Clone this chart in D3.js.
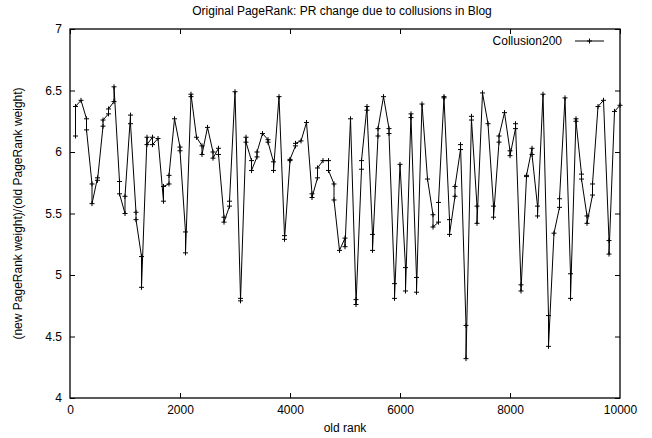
<!DOCTYPE html>
<html>
<head>
<meta charset="utf-8">
<script src="https://cdn.jsdelivr.net/npm/d3@7"></script>
<style>
  body { margin: 0; background: #fff; }
  svg text { font-family: "Liberation Sans", Arial, Helvetica, sans-serif; }
</style>
</head>
<body>
<div id="chart"></div>
<script>
// old rank positions (one cluster per rank)
const ranks = [
  100, 200, 300, 400, 500, 600, 700, 800, 900, 1000,
  1100, 1200, 1300, 1400, 1500, 1600, 1700, 1800, 1900, 2000,
  2100, 2200, 2300, 2400, 2500, 2600, 2700, 2800, 2900, 3000,
  3100, 3200, 3300, 3400, 3500, 3600, 3700, 3800, 3900, 4000,
  4100, 4200, 4300, 4400, 4500, 4600, 4700, 4800, 4900, 5000,
  5100, 5200, 5300, 5400, 5500, 5600, 5700, 5800, 5900, 6000,
  6100, 6200, 6300, 6400, 6500, 6600, 6700, 6800, 6900, 7000,
  7100, 7200, 7300, 7400, 7500, 7600, 7700, 7800, 7900, 8000,
  8100, 8200, 8300, 8400, 8500, 8600, 8700, 8800, 8900, 9000,
  9100, 9200, 9300, 9400, 9500, 9600, 9700, 9800, 9900, 10000
];

// PR change ratio samples at each rank (in plotting order)
const prChange = [
  [6.13, 6.37], [6.42], [6.27, 6.18], [5.74, 5.58], [5.79, 5.77],
  [6.21, 6.26], [6.31, 6.35], [6.41, 6.53], [5.76, 5.66], [5.50, 5.64],
  [6.30, 6.23], [5.51, 5.45], [5.15, 4.90], [6.12, 6.06], [6.12, 6.06],
  [6.11], [5.60, 5.72], [5.74, 5.81], [6.27], [6.04, 6.01],
  [5.35, 5.18], [6.45, 6.47], [6.12], [6.05, 5.98], [6.20],
  [6.00, 5.95], [6.03, 5.98], [5.47, 5.43], [5.56, 5.60], [6.49],
  [4.81, 4.79], [6.12, 6.08], [5.93, 5.85], [5.96, 6.00], [6.15],
  [6.10, 6.08], [5.92, 5.85], [6.45], [5.32, 5.29], [5.93, 5.94],
  [6.05, 6.07], [6.09], [6.24], [5.66, 5.63], [5.79, 5.87],
  [5.93], [5.93, 5.85], [5.74, 5.61], [5.20], [5.30, 5.23],
  [6.27], [4.80, 4.76], [5.86, 5.93], [6.37, 6.34], [5.33, 5.20],
  [6.13, 6.19], [6.45], [6.19, 6.15], [4.93, 4.81], [5.90],
  [5.06, 4.87], [6.31, 6.28], [4.98, 4.86], [6.39], [5.78],
  [5.49, 5.39], [5.43, 5.59], [6.45, 6.44], [5.45, 5.33], [5.64, 5.72],
  [6.02, 6.06], [4.59, 4.32], [6.29, 6.26], [5.56, 5.42], [6.48],
  [6.23], [5.56, 5.47], [6.08, 6.13], [6.32], [6.01, 5.97],
  [6.19, 6.23], [4.92, 4.87], [5.80, 5.81], [6.03, 5.98], [5.56, 5.48],
  [6.47], [4.67, 4.42], [5.34], [5.55, 5.62], [6.44],
  [5.01, 4.81], [6.27, 6.25], [5.82, 5.78], [5.48, 5.42], [5.65, 5.74],
  [6.37], [6.42], [5.28, 5.17], [6.33], [6.38]
];

const xTicks = [0, 2000, 4000, 6000, 8000, 10000];
const yTicks = [4, 4.5, 5, 5.5, 6, 6.5, 7];

const seriesName = "Collusion200";
const title = "Original PageRank: PR change due to collusions in Blog";

const width = 652, height = 438;
const margin = { top: 29, right: 32, bottom: 40, left: 70 };

const svg = d3.select("#chart").append("svg")
  .attr("width", width)
  .attr("height", height);

const x = d3.scaleLinear().domain([0, 10000]).range([margin.left, width - margin.right]);
const y = d3.scaleLinear().domain([4, 7]).range([height - margin.bottom, margin.top]);

// flatten clusters into points
const points = [];
ranks.forEach((r, i) => {
  prChange[i].forEach(v => points.push({ rank: r, value: v }));
});

// axes (gnuplot style: ticks inward, mirrored)
function styleAxis(g) {
  g.select(".domain").remove();
  g.selectAll(".tick line").attr("stroke", "#000").attr("stroke-width", 1);
  g.selectAll(".tick text").attr("font-size", 12).attr("fill", "#000");
}

svg.append("g")
  .attr("transform", `translate(0,${y(4)})`)
  .call(d3.axisBottom(x).tickValues(xTicks).tickFormat(d3.format("d")).tickSizeInner(-5).tickSizeOuter(0).tickPadding(7))
  .call(styleAxis)
  .call(g => g.selectAll(".tick").filter(d => d === 0 || d === 10000).select("line").remove());

svg.append("g")
  .attr("transform", `translate(0,${y(7)})`)
  .call(d3.axisTop(x).tickValues(xTicks).tickFormat("").tickSizeInner(-5).tickSizeOuter(0))
  .call(styleAxis);

svg.append("g")
  .attr("transform", `translate(${x(0)},0)`)
  .call(d3.axisLeft(y).tickValues(yTicks).tickFormat(d3.format("")).tickSizeInner(-5).tickSizeOuter(0).tickPadding(8))
  .call(styleAxis);

svg.append("g")
  .attr("transform", `translate(${x(10000)},0)`)
  .call(d3.axisRight(y).tickValues(yTicks).tickFormat("").tickSizeInner(-5).tickSizeOuter(0))
  .call(styleAxis);

// border
svg.append("rect")
  .attr("x", x(0)).attr("y", y(7))
  .attr("width", x(10000) - x(0)).attr("height", y(4) - y(7))
  .attr("fill", "none").attr("stroke", "#000").attr("stroke-width", 1.3);

// line
const line = d3.line().x(d => x(d.rank)).y(d => y(d.value));
svg.append("path")
  .datum(points)
  .attr("d", line)
  .attr("fill", "none")
  .attr("stroke", "#000")
  .attr("stroke-width", 1);

// plus markers
const ps = 2.5;
svg.append("g").selectAll("path.pt")
  .data(points)
  .enter().append("path")
  .attr("class", "pt")
  .attr("d", d => {
    const cx = x(d.rank), cy = y(d.value);
    return `M${cx - ps},${cy}H${cx + ps}M${cx},${cy - ps}V${cy + ps}`;
  })
  .attr("stroke", "#000")
  .attr("stroke-width", 1);

// legend
const lg = svg.append("g");
lg.append("text")
  .attr("x", 562).attr("y", 45)
  .attr("text-anchor", "end")
  .attr("font-size", 12)
  .text(seriesName);
lg.append("line")
  .attr("x1", 575).attr("x2", 604).attr("y1", 41).attr("y2", 41)
  .attr("stroke", "#000");
lg.append("path")
  .attr("d", `M${589.5 - ps},41H${589.5 + ps}M589.5,${41 - ps}V${41 + ps}`)
  .attr("stroke", "#000");

// title and axis labels
svg.append("text")
  .attr("x", 342).attr("y", 14.5)
  .attr("text-anchor", "middle")
  .attr("font-size", 12)
  .text(title);

svg.append("text")
  .attr("x", (x(0) + x(10000)) / 2).attr("y", 432)
  .attr("text-anchor", "middle")
  .attr("font-size", 12)
  .text("old rank");

svg.append("text")
  .attr("transform", `translate(21.5,${(y(4) + y(7)) / 2}) rotate(-90)`)
  .attr("text-anchor", "middle")
  .attr("font-size", 12)
  .text("(new PageRank weight)/(old PageRank weight)");
</script>
</body>
</html>
